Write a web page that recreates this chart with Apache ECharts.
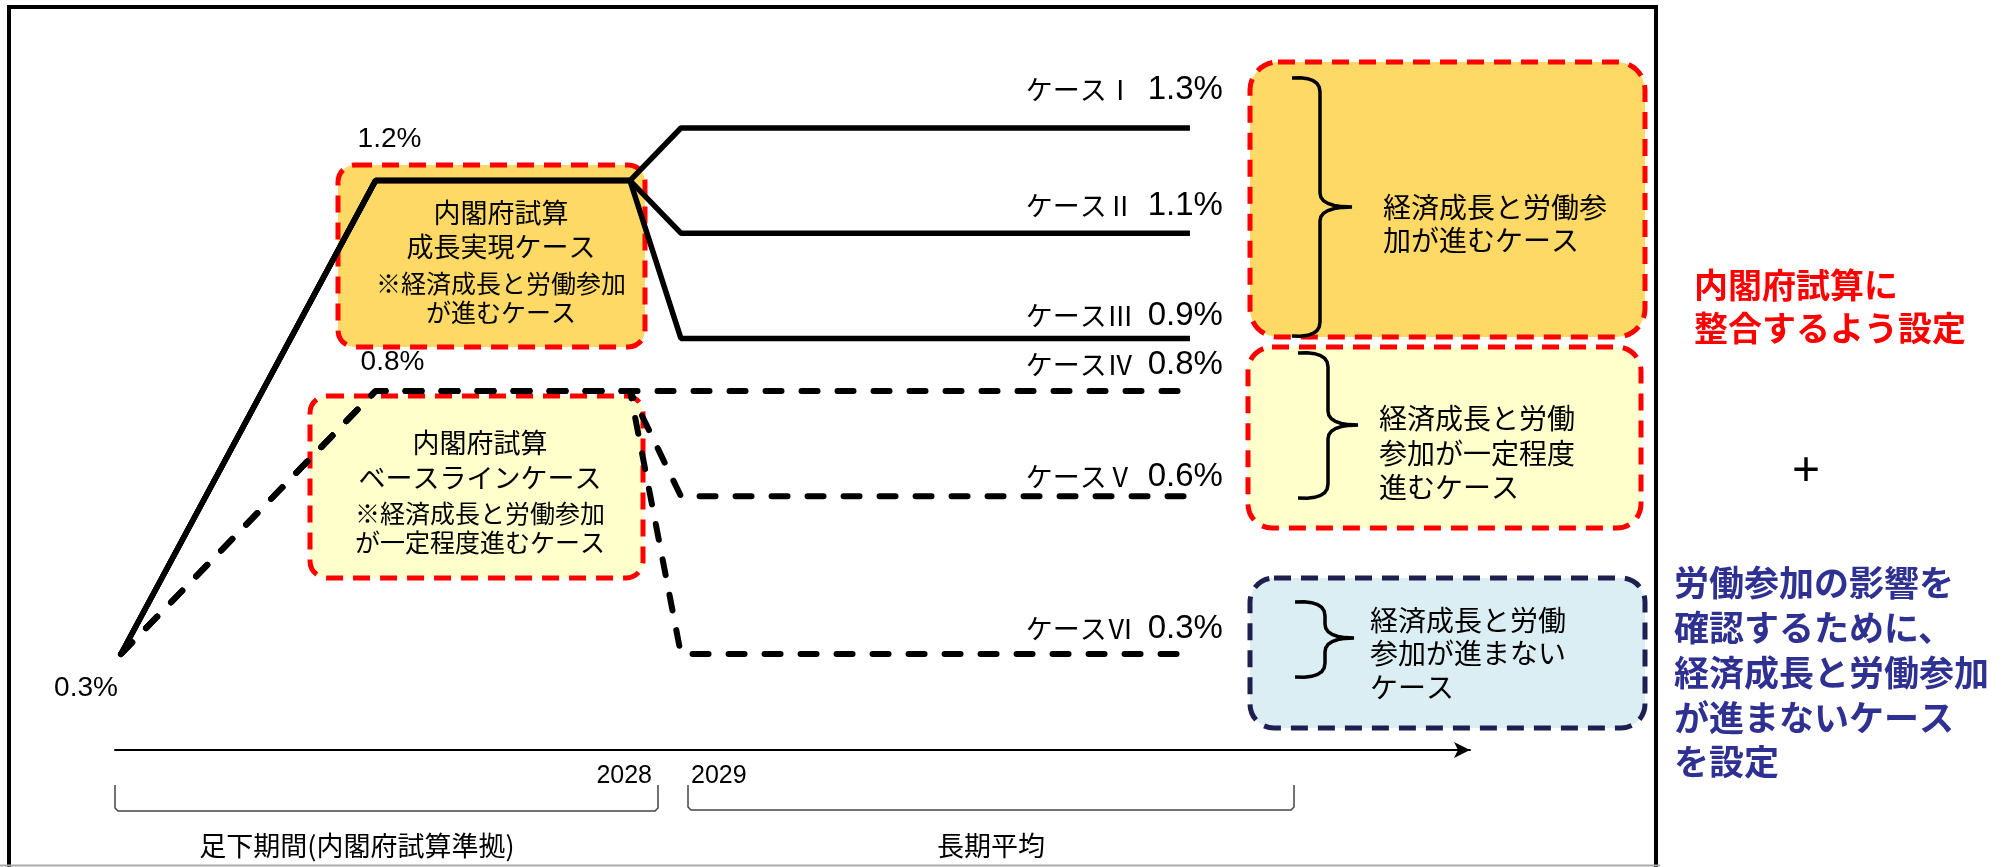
<!DOCTYPE html>
<html>
<head>
<meta charset="UTF-8">
<title></title>
<script src="https://cdn.jsdelivr.net/npm/echarts@6/dist/echarts.min.js"></script>
<style>
html,body{margin:0;padding:0;background:#fff;}
#chart{width:2006px;height:867px;}
</style>
</head>
<body>
<div id="chart"></div>
<script>
// schematic time positions: start, end of ramp-up, 2028, 2029, long-run
var xPos = [0, 1, 2, 2.2, 4.2];
var caseNames = ['ケースⅠ', 'ケースⅡ', 'ケースⅢ', 'ケースⅣ', 'ケースⅤ', 'ケースⅥ'];
var case1 = [0.3, 1.2, 1.2, 1.3, 1.3];
var case2 = [0.3, 1.2, 1.2, 1.1, 1.1];
var case3 = [0.3, 1.2, 1.2, 0.9, 0.9];
var case4 = [0.3, 0.8, 0.8, 0.8, 0.8];
var case5 = [0.3, 0.8, 0.8, 0.6, 0.6];
var case6 = [0.3, 0.8, 0.8, 0.3, 0.3];
var yearLabels = ['2028', '2029'];
var periodLabels = ['足下期間(内閣府試算準拠)', '長期平均'];

var JP = '"Noto Sans CJK JP", sans-serif';
var LAT = '"Liberation Sans", Arial, sans-serif';

function pct(v) { return v.toFixed(1) + '%'; }

var caseValues = [case1, case2, case3, case4, case5, case6];
var labelDy = [-38, -27, -22, -26, -19, -25];

var series = caseValues.map(function (vals, i) {
	var dashed = i >= 3;
	var data = vals.map(function (v, j) { return { value: [xPos[j], v] }; });
	var n = vals.length - 1;
	data[n].label = {
		show: true, position: 'top', distance: 0, align: 'right', verticalAlign: 'middle',
		offset: [33, labelDy[i]],
		formatter: '{n|' + caseNames[i] + '}{v|' + pct(vals[n]) + '}',
		rich: {
			n: { fontFamily: JP, fontSize: 27, color: '#000', padding: [0, 14, 0, 0] },
			v: { fontFamily: LAT, fontSize: 33, color: '#000' }
		}
	};
	var small = { show: true, position: 'top', distance: 0, align: 'center', verticalAlign: 'middle',
		fontFamily: LAT, fontSize: 28, color: '#000' };
	if (i === 0) {
		data[1].label = Object.assign({}, small, { offset: [14, -41], formatter: pct(vals[1]) });
	}
	if (i === 3) {
		data[1].label = Object.assign({}, small, { offset: [17, -28], formatter: pct(vals[1]) });
		data[0].label = Object.assign({}, small, { offset: [-35, 35], formatter: pct(vals[0]) });
	}
	return {
		name: caseNames[i],
		type: 'line',
		data: data,
		z: 5,
		symbol: 'circle',
		symbolSize: 1,
		itemStyle: { color: 'rgba(0,0,0,0)' },
		lineStyle: dashed
			? { color: '#000', width: 6, type: [16, 20], cap: 'round' }
			: { color: '#000', width: 5.5 },
		silent: true,
		animation: false
	};
});

function box(x, y, w, h, r, fill, stroke) {
	return { type: 'rect', z: 1, silent: true,
		shape: { x: x, y: y, width: w, height: h, r: r },
		style: { fill: fill, stroke: stroke, lineWidth: 5, lineDash: [17, 10] } };
}
function txt(s, x, y, size, align, opt) {
	opt = opt || {};
	return { type: 'text', z: 6, silent: true,
		style: { text: s, x: x, y: y, fontSize: size, fontFamily: opt.family || JP,
			fontWeight: opt.weight || 'normal', fill: opt.color || '#000',
			align: align, verticalAlign: 'middle' } };
}
function quad(p0, p1, p2, n) {
	var pts = [];
	for (var k = 1; k <= n; k++) {
		var t = k / n;
		pts.push([(1-t)*(1-t)*p0[0] + 2*(1-t)*t*p1[0] + t*t*p2[0],
			(1-t)*(1-t)*p0[1] + 2*(1-t)*t*p1[1] + t*t*p2[1]]);
	}
	return pts;
}
function brace(x0, xs, xt, yt, ym, yb) {
	var c = 14;
	var pts = [[x0, yt]];
	pts = pts.concat(quad([x0, yt], [xs, yt - 2], [xs, yt + c], 6));
	pts.push([xs, ym - c]);
	pts = pts.concat(quad([xs, ym - c], [xs, ym], [xt, ym], 6));
	pts = pts.concat(quad([xt, ym], [xs, ym], [xs, ym + c], 6));
	pts.push([xs, yb - c]);
	pts = pts.concat(quad([xs, yb - c], [xs, yb + 2], [x0, yb], 6));
	return { type: 'polyline', z: 4, silent: true, shape: { points: pts },
		style: { stroke: '#000', lineWidth: 3.5, fill: null } };
}
function bracket(xl, xr, yt, yb) {
	return { type: 'polyline', z: 4, silent: true,
		shape: { points: [[xl, yt], [xl, yb - 3], [xl + 3, yb], [xr - 3, yb], [xr, yb - 3], [xr, yt]] },
		style: { stroke: '#444', lineWidth: 1.5, fill: null } };
}

var RED = '#ff0000', NAVY = '#1c1f4f', ORANGE = '#fed966', LYEL = '#ffffcc', LBLUE = '#daeef3';

var graphics = [
	{ type: 'rect', z: 0, silent: true, shape: { x: 9, y: 7, width: 1647, height: 900 },
		style: { fill: null, stroke: '#000', lineWidth: 4 } },
	{ type: 'line', z: 0, silent: true, shape: { x1: 0, y1: 865.5, x2: 1660, y2: 865.5 },
		style: { stroke: '#aaa', lineWidth: 2 } },

	box(338, 165, 307, 182, 17, ORANGE, RED),
	box(310, 396, 333, 182, 17, LYEL, RED),
	box(1250, 62, 395, 275, 28, ORANGE, RED),
	box(1248, 347, 393, 181, 24, LYEL, RED),
	box(1250, 578, 395, 150, 24, LBLUE, NAVY),

	txt('内閣府試算', 501, 213, 27, 'center'),
	txt('成長実現ケース', 501, 247, 27, 'center'),
	txt('※経済成長と労働参加', 501, 283, 25, 'center'),
	txt('が進むケース', 501, 312, 25, 'center'),

	txt('内閣府試算', 480, 443, 27, 'center'),
	txt('ベースラインケース', 480, 478, 27, 'center'),
	txt('※経済成長と労働参加', 480, 513, 25, 'center'),
	txt('が一定程度進むケース', 480, 542, 25, 'center'),

	brace(1292, 1320, 1352, 78, 207, 336),
	txt('経済成長と労働参', 1383, 207, 28, 'left'),
	txt('加が進むケース', 1383, 240, 28, 'left'),

	brace(1298, 1328, 1358, 353, 425, 498),
	txt('経済成長と労働', 1379, 418, 28, 'left'),
	txt('参加が一定程度', 1379, 453, 28, 'left'),
	txt('進むケース', 1379, 487, 28, 'left'),

	brace(1295, 1325, 1354, 602, 638, 677),
	txt('経済成長と労働', 1370, 620, 28, 'left'),
	txt('参加が進まない', 1370, 653, 28, 'left'),
	txt('ケース', 1370, 687, 28, 'left'),

	txt('内閣府試算に', 1694, 285, 34, 'left', { color: RED, weight: 'bold' }),
	txt('整合するよう設定', 1694, 328, 34, 'left', { color: RED, weight: 'bold' }),
	txt('+', 1806, 472, 48, 'center', { family: LAT }),
	txt('労働参加の影響を', 1674, 583, 35, 'left', { color: '#2e3192', weight: 'bold' }),
	txt('確認するために、', 1674, 628, 35, 'left', { color: '#2e3192', weight: 'bold' }),
	txt('経済成長と労働参加', 1674, 673, 35, 'left', { color: '#2e3192', weight: 'bold' }),
	txt('が進まないケース', 1674, 718, 35, 'left', { color: '#2e3192', weight: 'bold' }),
	txt('を設定', 1674, 762, 35, 'left', { color: '#2e3192', weight: 'bold' }),

	bracket(115, 658, 785, 811),
	bracket(688, 1294, 785, 810),
	txt(yearLabels[0], 652, 776, 25, 'right', { family: LAT }),
	txt(yearLabels[1], 691, 776, 25, 'left', { family: LAT }),
	txt(periodLabels[0], 357, 846, 27, 'center'),
	txt(periodLabels[1], 991, 846, 27, 'center')
];

var chart = echarts.init(document.getElementById('chart'));
chart.setOption({
	animation: false,
	backgroundColor: '#fff',
	grid: { left: 115, right: 536, top: 22.8, bottom: 117 },
	xAxis: {
		type: 'value', min: -0.0236, max: 5.3004,
		axisLine: { show: true, onZero: false, symbol: ['none', 'arrow'], symbolSize: [12, 16],
			lineStyle: { color: '#000', width: 2 } },
		axisTick: { show: false }, axisLabel: { show: false }, splitLine: { show: false }
	},
	yAxis: {
		type: 'value', min: 0.1175, max: 1.5, show: false, splitLine: { show: false }
	},
	graphic: { elements: graphics },
	series: series
});
</script>
</body>
</html>
